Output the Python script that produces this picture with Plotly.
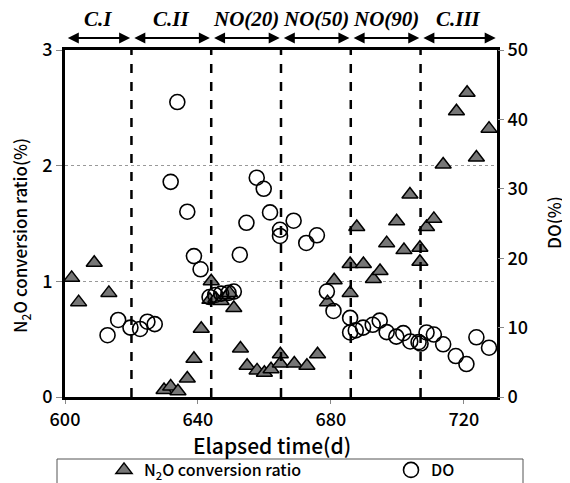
import plotly.graph_objects as go

# N2O conversion ratio (%) - left axis
n2o_day = [602.0, 604.1, 608.8, 613.2, 629.8, 631.8, 634.0, 636.8, 638.8, 641.0,
           643.6, 644.0, 645.4, 647.0, 648.8, 649.5, 650.8, 652.8, 654.8, 657.8,
           660.0, 662.0, 664.8, 664.8, 669.0, 672.8, 676.0, 679.0, 681.0, 685.8,
           685.8, 687.8, 689.8, 692.8, 694.8, 696.8, 699.8, 702.0, 703.8, 706.8,
           706.8, 708.8, 711.0, 713.8, 717.8, 721.0, 723.8, 727.6]
n2o_val = [1.03, 0.82, 1.16, 0.90, 0.06, 0.09, 0.05, 0.16, 0.33, 0.59,
           0.84, 1.00, 0.85, 0.83, 0.88, 0.90, 0.77, 0.42, 0.27, 0.23,
           0.21, 0.24, 0.37, 0.29, 0.29, 0.27, 0.37, 0.82, 1.01, 0.90,
           1.15, 1.47, 1.15, 1.02, 1.09, 1.33, 1.52, 1.27, 1.75, 1.29,
           1.17, 1.47, 1.54, 2.01, 2.47, 2.63, 2.07, 2.32]

# DO (%) - right axis
do_day = [612.8, 616.0, 619.7, 622.6, 624.8, 627.0, 631.8, 633.8, 636.8, 638.8,
          640.8, 643.5, 645.2, 647.0, 649.2, 650.8, 652.6, 654.6, 657.7, 659.8,
          661.7, 664.7, 664.7, 668.8, 672.6, 675.8, 678.8, 680.8, 685.8, 685.8,
          687.5, 689.7, 692.6, 694.7, 696.8, 699.7, 701.8, 703.9, 706.4, 707.0,
          708.8, 711.0, 713.8, 717.6, 720.8, 723.8, 727.6]
do_val = [8.9, 11.1, 10.0, 9.8, 10.85, 10.5, 31.0, 42.5, 26.7, 20.3,
          18.4, 14.4, 14.7, 14.9, 15.0, 15.2, 20.5, 25.1, 31.6, 30.0,
          26.6, 24.1, 23.2, 25.4, 22.2, 23.3, 15.2, 12.4, 11.4, 9.3,
          9.6, 10.0, 10.4, 11.0, 9.35, 8.7, 9.2, 8.0, 7.9, 7.7,
          9.3, 9.0, 7.6, 5.9, 4.75, 8.6, 7.1]

# Periods
period_names = ["C.I", "C.II", "NO(20)", "NO(50)", "NO(90)", "C.III"]
period_bounds = [600, 620, 644, 665, 686, 707, 730]

x_ticks = [600, 640, 680, 720]
y_ticks = [0, 1, 2, 3]
y2_ticks = [0, 10, 20, 30, 40, 50]

FONT = "Noto Sans CJK JP"
OFF = 8  # page body margin
W, H = 570 - OFF, 483 - OFF
L, T = 65 - OFF, 50 - OFF
R, B = W - (497 - OFF), H - (397 - OFF)
PW, PH = W - L - R, H - T - B


def px_x(p):  # screen px -> paper
    return (p - OFF - L) / PW


def px_y(p):
    return (H - B - (p - OFF)) / PH


fig = go.Figure()
fig.add_trace(go.Scatter(
    x=n2o_day, y=n2o_val, mode="markers", name="N<sub>2</sub>O conversion ratio",
    marker=dict(symbol="triangle-up", size=14, color="#767676",
                line=dict(color="black", width=1.5)),
    legend="legend", cliponaxis=False))
fig.add_trace(go.Scatter(
    x=do_day, y=do_val, mode="markers", name="DO", yaxis="y2",
    marker=dict(symbol="circle-open", size=15, color="black",
                line=dict(color="black", width=1.6)),
    legend="legend2", cliponaxis=False))

shapes = []
for b in period_bounds[1:-1]:
    shapes.append(dict(type="line", xref="x", yref="paper", x0=b, x1=b, y0=0, y1=1,
                       line=dict(color="black", width=2.5, dash="dash")))
# legend box
shapes.append(dict(type="rect", xref="paper", yref="paper",
                   x0=px_x(57), x1=px_x(523), y0=px_y(495), y1=px_y(459),
                   line=dict(color="#555555", width=1), fillcolor="rgba(0,0,0,0)"))

annotations = []
arrow_y = px_y(38)
for i, name in enumerate(period_names):
    a, b = period_bounds[i], period_bounds[i + 1]
    annotations.append(dict(x=b - 0.4, y=arrow_y, xref="x", yref="paper",
                            ax=a + 0.4, ay=0, axref="x", ayref="pixel",
                            text="", showarrow=True, arrowhead=2, startarrowhead=2,
                            arrowside="end+start", arrowsize=1.1, startarrowsize=1.1,
                            arrowwidth=2, arrowcolor="black"))
    annotations.append(dict(x=(a + b) / 2, y=px_y(19), xref="x", yref="paper",
                            text="<b><i>%s</i></b>" % name, showarrow=False,
                            font=dict(family="Liberation Serif", size=21, color="black"),
                            xanchor="center", yanchor="middle"))

# axis titles as annotations for exact placement
annotations.append(dict(x=px_x(20), y=px_y(236), xref="paper", yref="paper",
                        text="N<sub>2</sub>O conversion ratio(%)", textangle=-90,
                        showarrow=False, xanchor="center", yanchor="middle",
                        font=dict(family=FONT, size=17, color="black", weight=500)))
annotations.append(dict(x=px_x(553), y=px_y(223), xref="paper", yref="paper",
                        text="DO(%)", textangle=-90,
                        showarrow=False, xanchor="center", yanchor="middle",
                        font=dict(family=FONT, size=17, color="black", weight=500)))
annotations.append(dict(x=px_x(272), y=px_y(445), xref="paper", yref="paper",
                        text="Elapsed time(d)",
                        showarrow=False, xanchor="center", yanchor="middle",
                        font=dict(family=FONT, size=21, color="black", weight=500)))

tickfont = dict(family=FONT, size=18, color="black", weight=500)
legfont = dict(family=FONT, size=16, color="black", weight=500)

fig.update_layout(
    width=W, height=H,
    margin=dict(l=L, r=R, t=T, b=B, autoexpand=False),
    paper_bgcolor="white", plot_bgcolor="white",
    font=dict(family=FONT, color="black"),
    showlegend=True,
    legend=dict(x=px_x(104), y=px_y(470), xanchor="left", yanchor="middle",
                orientation="h", font=legfont,
                bgcolor="rgba(0,0,0,0)", borderwidth=0),
    legend2=dict(x=px_x(391), y=px_y(470), xanchor="left", yanchor="middle",
                 orientation="h", font=legfont,
                 bgcolor="rgba(0,0,0,0)", borderwidth=0),
    xaxis=dict(range=[600, 730], tickvals=x_ticks, ticks="outside", ticklen=4,
               tickcolor="#888888", showline=True, linecolor="black", linewidth=3,
               mirror=True, showgrid=False, zeroline=False, automargin=False,
               tickfont=tickfont),
    yaxis=dict(range=[0, 3], tickvals=y_ticks, ticks="outside", ticklen=6,
               tickcolor="#888888", showline=True, linecolor="black", linewidth=3,
               mirror=True, showgrid=True, gridcolor="#999999", griddash="dot",
               gridwidth=1, zeroline=False, automargin=False,
               tickfont=tickfont),
    yaxis2=dict(range=[0, 50], tickvals=y2_ticks, overlaying="y", side="right",
                ticks="outside", ticklen=6, tickcolor="#888888", showline=False,
                showgrid=False, zeroline=False, automargin=False,
                tickfont=tickfont),
    shapes=shapes,
    annotations=annotations,
)

fig.write_html("out.html")
